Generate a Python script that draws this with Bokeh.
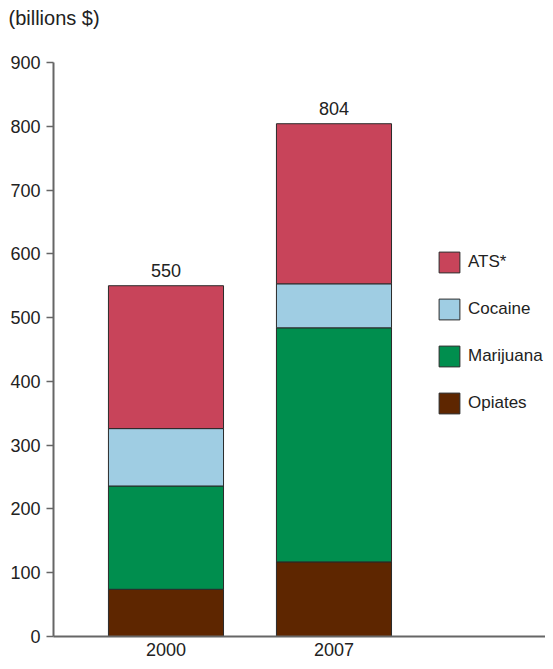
from bokeh.plotting import figure
from bokeh.models import (Range1d, FixedTicker, Legend, LegendItem,
                          ColumnDataSource, Title)
from bokeh.embed import file_html
from bokeh.resources import INLINE
from bokeh.core.properties import value

# ---- data ----
years = ["2000", "2007"]
x_pos = [1, 2]
opiates = [74, 117]
marijuana = [162, 367]
cocaine = [90, 69]
ats = [224, 251]
totals = [550, 804]
series_names = ["Opiates", "Marijuana", "Cocaine", "ATS*"]
series_colors = ["#5E2600", "#008E4E", "#9FCDE3", "#C8445A"]
y_ticks = [0, 100, 200, 300, 400, 500, 600, 700, 800, 900]
unit_label = "(billions $)"

FONT = "Liberation Sans"
TXT = "#222222"
AXC = "#666666"

src = ColumnDataSource(dict(x=x_pos, Opiates=opiates, Marijuana=marijuana,
                            Cocaine=cocaine, ATS=ats))

p = figure(width=545, height=661, output_backend="svg", toolbar_location=None,
           x_range=Range1d(0.3304, 3.259), y_range=Range1d(0, 900),
           min_border_left=53, min_border_right=0, min_border_top=62,
           min_border_bottom=25, title=None)
p.outline_line_color = None
p.grid.visible = False
p.background_fill_color = "white"
p.border_fill_color = "white"

# spacer panel between frame and unit label
spacer = Title(text=" ", text_font=FONT, text_font_size="10px", standoff=19)
p.add_layout(spacer, "above")
# unit label as title
unit_title = Title(text=unit_label, align="left", vertical_align="top",
                   offset=-45, standoff=0, text_font=FONT,
                   text_font_size="20px", text_font_style="normal",
                   text_color=TXT)
p.add_layout(unit_title, "above")

renderers = p.vbar_stack(["Opiates", "Marijuana", "Cocaine", "ATS"], x="x",
                         width=0.685, source=src, color=series_colors,
                         line_color="#2a2a2a", line_width=1)

# totals
tsrc = ColumnDataSource(dict(x=x_pos, y=totals, t=[str(v) for v in totals]))
p.text(x="x", y="y", text="t", source=tsrc, text_align="center",
       text_baseline="bottom", y_offset=-9, text_font=value(FONT),
       text_font_size="18px", text_color=TXT)

# axes
p.yaxis.ticker = FixedTicker(ticks=y_ticks)
p.yaxis.minor_tick_line_color = None
p.yaxis.major_tick_out = 7
p.yaxis.major_tick_in = 0
p.yaxis.major_label_standoff = 6
p.yaxis.axis_line_color = AXC
p.yaxis.axis_line_width = 2
p.yaxis.major_tick_line_color = AXC
p.yaxis.major_tick_line_width = 1.5
p.yaxis.major_label_text_font = FONT
p.yaxis.major_label_text_font_size = "18px"
p.yaxis.major_label_text_color = TXT

p.xaxis.ticker = FixedTicker(ticks=x_pos)
p.xaxis.major_label_overrides = {x: y for x, y in zip(x_pos, years)}
p.xaxis.minor_tick_line_color = None
p.xaxis.major_tick_line_color = None
p.xaxis.major_tick_out = 0
p.xaxis.major_tick_in = 0
p.xaxis.major_label_standoff = 6
p.xaxis.axis_line_color = AXC
p.xaxis.axis_line_width = 2
p.xaxis.major_label_text_font = FONT
p.xaxis.major_label_text_font_size = "18px"
p.xaxis.major_label_text_color = TXT

# legend (top: ATS*)
items = [LegendItem(label=series_names[i], renderers=[renderers[i]])
         for i in [3, 2, 1, 0]]
legend = Legend(items=items, location=(383, 220), padding=0, margin=0,
                spacing=21, glyph_width=26, glyph_height=26, label_height=26,
                label_standoff=6, label_text_font=FONT,
                label_text_font_size="17px", label_text_color=TXT,
                border_line_color=None, background_fill_alpha=0)
p.add_layout(legend)

open("out.html", "w").write(file_html(p, INLINE))
